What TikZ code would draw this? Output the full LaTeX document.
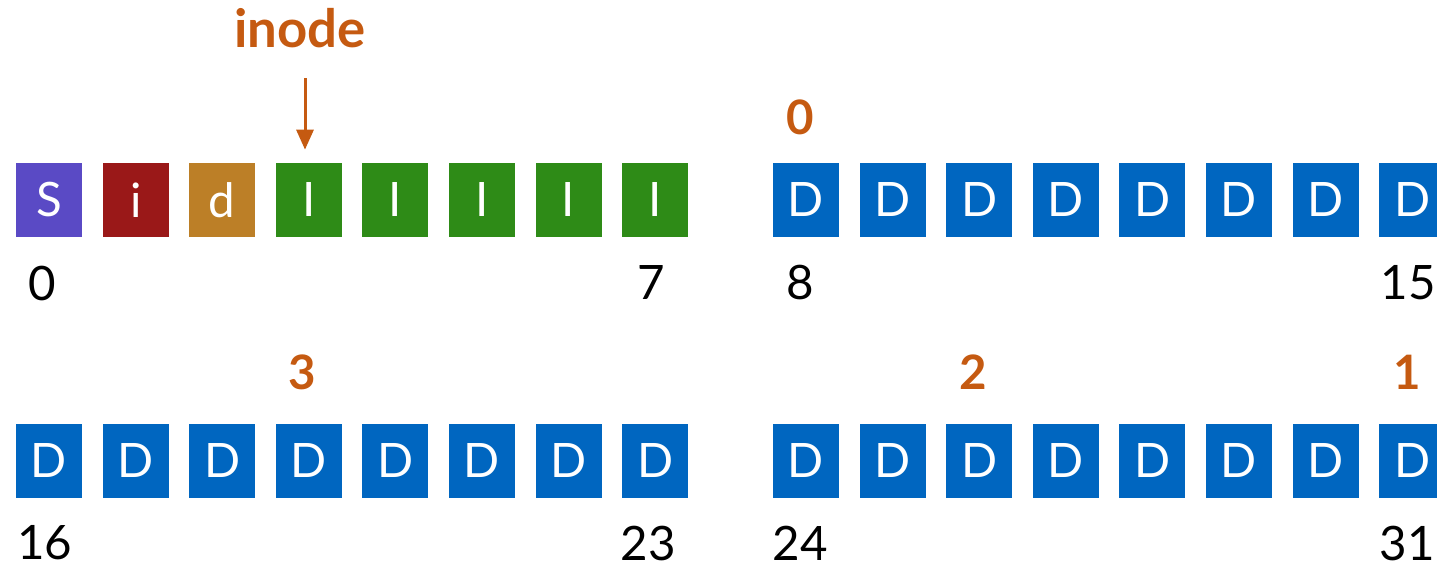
\documentclass[tikz,border=0pt]{standalone}
\usepackage{fontspec}
\setmainfont{Lato}
\usepackage{xcolor}
\usetikzlibrary{arrows.meta}
\definecolor{supcol}{HTML}{5A4AC5}
\definecolor{imapcol}{HTML}{9A1818}
\definecolor{dmapcol}{HTML}{BC7F27}
\definecolor{inocol}{HTML}{2E8B17}
\definecolor{datcol}{HTML}{0066C0}
\definecolor{markcol}{HTML}{C55A11}
\newcommand{\bigtxt}{\fontsize{27}{30}\selectfont}

\begin{document}
\begin{tikzpicture}[x=0.02cm,y=-0.02cm,
    blk/.style={fill=#1, text=white, minimum width=1.32cm, minimum height=1.48cm,
      inner sep=0pt, font=\bigtxt},
    num/.style={font=\bigtxt, inner sep=1pt},
    hilite/.style={text=markcol, font=\bigtxt\bfseries, inner sep=1pt}]
    \clip (0,0) rectangle (1437,568);

    % first row
    \node[blk=supcol] (b0) at (49,200) {S};
    \node[blk=imapcol] (b1) at (136,200) {i};
    \node[blk=dmapcol] (b2) at (222,200) {d};
    \foreach \i in {3,...,7}
      \node[blk=inocol] (b\i) at ({49+86.6*\i},200) {I};
    \foreach \i in {8,...,15}
      \node[blk=datcol] (b\i) at ({806+86.6*(\i-8)},200) {D};

    % second row
    \foreach \i in {16,...,23}
      \node[blk=datcol] (b\i) at ({49+86.6*(\i-16)},461) {D};
    \foreach \i in {24,...,31}
      \node[blk=datcol] (b\i) at ({806+86.6*(\i-24)},461) {D};

    \node[num] (n0) at (42,283) {0};
    \node[num] (n7) at (651,283) {7};
    \node[num] (n8) at (800,283) {8};
    \node[num] (n15) at (1408,283) {15};
    \node[num] (n16) at (45,543) {16};
    \node[num] (n23) at (648,543) {23};
    \node[num] (n24) at (800,543) {24};
    \node[num] (n31) at (1407,543) {31};

    \node[hilite, font=\fontsize{30}{32}\selectfont\bfseries] (inode) at (300,28) {inode};
    \node[hilite] (m0) at (800,117) {0};
    \node[hilite] (m3) at (302,372) {3};
    \node[hilite] (m2) at (973,372) {2};
    \node[hilite] (m1) at (1407,372) {1};

    \coordinate (arr) at (305,78);
    \draw[markcol, line width=0.06cm, shorten >=0.26cm,
      -{Triangle[length=0.4cm,width=0.34cm]}] (arr) -- (arr |- b3.north);
  \end{tikzpicture}
\end{document}
